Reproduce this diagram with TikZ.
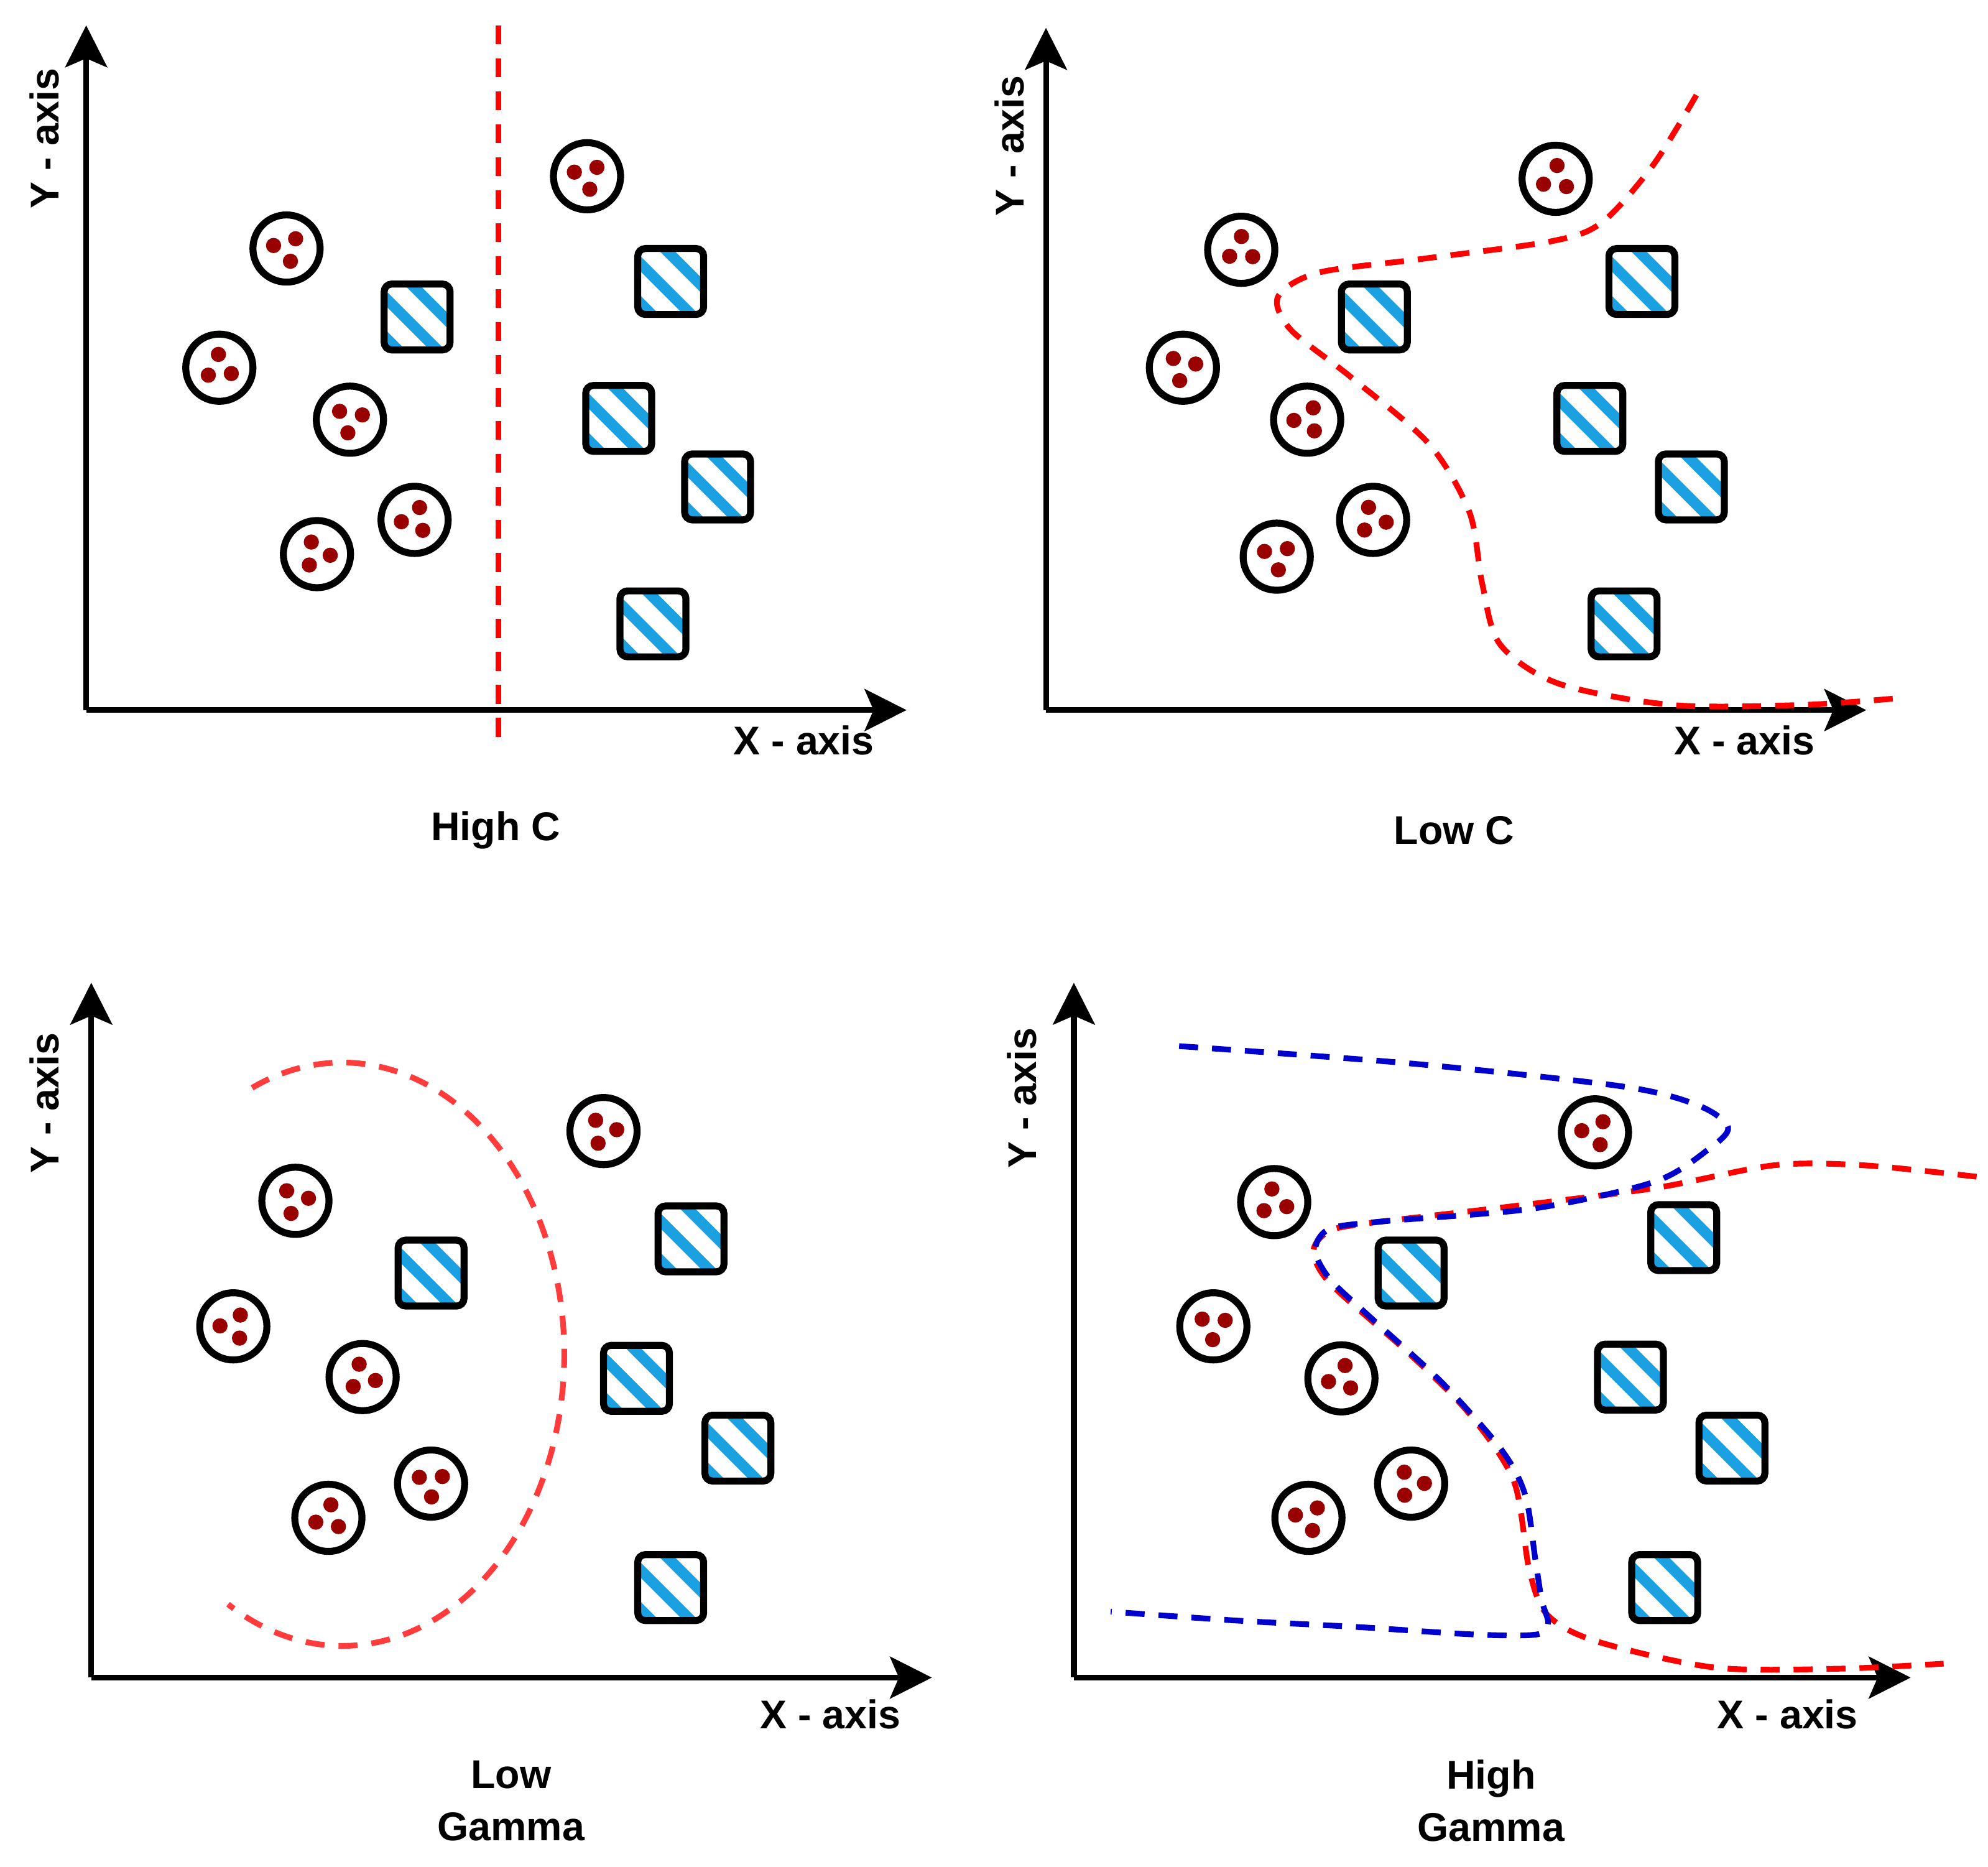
\documentclass[tikz,border=0pt]{standalone}
\usepackage{fontspec}
\setmainfont{Liberation Sans}
\usetikzlibrary{arrows.meta}
\definecolor{dotred}{HTML}{990000}
\definecolor{hatch}{HTML}{1BA1E2}
\definecolor{cut}{HTML}{FF0000}
\definecolor{softcut}{HTML}{FF3B3B}
\definecolor{cutblue}{HTML}{0000CC}
\tikzset{
  redpt/.style={draw,circle,line width=0.55mm,minimum size=5.3mm,inner sep=0pt,
    path picture={\foreach \ang in {0,120,240}
      \fill[dotred] (path picture bounding box.center) ++(#1+\ang:1.05mm) circle (0.6mm);}},
  bluept/.style={draw,rectangle,rounded corners=0.6mm,line width=0.55mm,minimum size=5.2mm,inner sep=0pt,
    path picture={\foreach \sh in {-2.9,-0.7,1.5}
      \draw[hatch,line width=0.85mm] (path picture bounding box.center) ++(45:\sh mm) ++(135:5mm) -- ++(-45:10mm);}},
  axis/.style={line width=0.45mm,-{Stealth[length=3.3mm,width=3.3mm,inset=0.7mm]}},
  cutline/.style={line width=0.45mm,dash pattern=on 1.5mm off 1.1mm},
  lbl/.style={font=\bfseries\fontsize{9}{11.7}\selectfont,inner sep=0pt}
}
\begin{document}
\begin{tikzpicture}[x=0.1mm,y=-0.1mm]
\useasboundingbox (0,0) rectangle (1568,1472);
% axes
\foreach \ox/\oy/\xt/\yt [count=\i] in {68/560/715/20, 825/560/1472/22, 72/1323/735/775, 847/1323/1507/775}
{
    \coordinate (o\i) at (\ox,\oy);
    \coordinate (xe\i) at (\xt,\oy);
    \coordinate (ye\i) at (\ox,\yt);
    \draw[axis] (o\i) -- (xe\i);
    \draw[axis] (o\i) -- (ye\i);
}
\node[lbl,rotate=90] (ya1) at (35,109) {Y - axis};
\node[lbl,rotate=90] (ya2) at (796,115) {Y - axis};
\node[lbl,rotate=90] (ya3) at (35,870) {Y - axis};
\node[lbl,rotate=90] (ya4) at (806,866) {Y - axis};
\node[lbl] (xa1) at (634,584) {X - axis};
\node[lbl] (xa2) at (1376,584) {X - axis};
\node[lbl] (xa3) at (655,1352) {X - axis};
\node[lbl] (xa4) at (1410,1352) {X - axis};
\node[lbl] (t1) at (391,655) {High C};
\node[lbl] (t2) at (1147,655) {Low C};
\node[lbl,align=center] (t3) at (403,1420) {Low\\Gamma};
\node[lbl,align=center] (t4) at (1176,1420) {High\\Gamma};
% separating curves
\coordinate (c1a) at (393,20);
\coordinate (c1b) at (393,588);
\draw[cutline,cut] (c1a) -- (c1b);
\draw[cutline,cut] plot[smooth] coordinates {(1338,75) (1304,130) (1264,175) (1225,190) (1123,204) (1040,215) (1008,234) (1018,260) (1065,297) (1127,350) (1159,404) (1169,460) (1183,508) (1229,539) (1319,556) (1420,556) (1493,551)};
\draw[cutline,softcut] (270,1068) ++(-114:175 and 230) arc[start angle=-114,end angle=121,x radius=175,y radius=230];
\draw[cutline,cut] plot[smooth] coordinates {(1559,928) (1470,919) (1399,919) (1305,937) (1187,952) (1069,966) (1045,973) (1036,988) (1050,1013) (1112,1068) (1159,1115) (1194,1168) (1206,1237) (1220,1273) (1258,1294) (1352,1315) (1450,1316) (1533,1312)};
\draw[cutline,cutblue] plot[smooth] coordinates {(930,825) (1116,839) (1281,857) (1340,872) (1363,889) (1348,906) (1305,932) (1210,953) (1093,963) (1052,968) (1040,977) (1038,990) (1050,1010) (1081,1039) (1137,1090) (1184,1143) (1203,1179) (1211,1230) (1216,1262) (1221,1280) (1212,1289) (1163,1289) (1069,1283) (975,1278) (876,1271)};
% data points
\foreach \px/\py [count=\i] in {226/196, 173/290, 276/331, 327/410, 250/437, 463/139,
    979/197, 933/290, 1031/331, 1083/410, 1007/439, 1227/141,
    233/947, 184/1046, 286/1086, 340/1170, 259/1197, 476/892,
    1258/893, 1005/948, 957/1046, 1058/1087, 1113/1170, 1032/1197}
{
    \node[redpt=\i*47] (r\i) at (\px,\py) {};
}
\foreach \px/\py [count=\i] in {329/250, 529/222, 488/330, 566/384, 515/492,
    1084/250, 1295/222, 1254/330, 1334/384, 1281/492,
    340/1004, 545/977, 502/1087, 582/1142, 529/1252,
    1113/1004, 1328/976, 1286/1086, 1366/1142, 1313/1252}
{
    \node[bluept] (b\i) at (\px,\py) {};
}
\end{tikzpicture}
\end{document}
